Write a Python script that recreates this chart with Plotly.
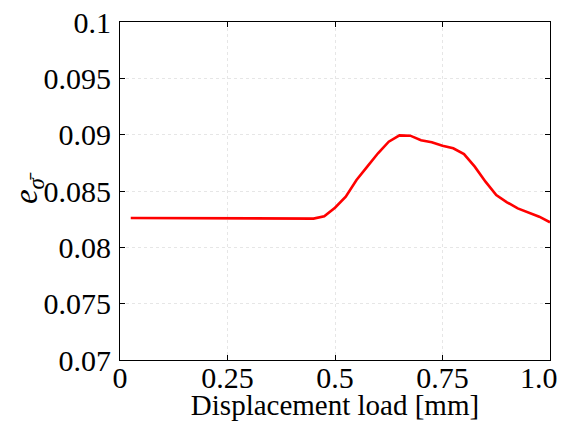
import plotly.graph_objects as go

# displacement load [mm], step 0.025
disp = [0.025 * i for i in range(1, 41)]
err = [
    0.0826, 0.0826, 0.0826, 0.0826, 0.0826, 0.0826, 0.0826, 0.0826, 0.0826, 0.0826,
    0.0826, 0.0826, 0.0826, 0.0826, 0.0826, 0.0826, 0.0826, 0.08255, 0.08275, 0.08352,
    0.08449, 0.08598, 0.08716, 0.08835, 0.08938, 0.08994, 0.08991, 0.0895, 0.08932, 0.08902,
    0.08879, 0.08828, 0.08716, 0.08583, 0.08464, 0.0840, 0.08346, 0.08307, 0.08272, 0.08222,
]

x_ticks = [0, 0.25, 0.5, 0.75, 1.0]
# the last label sits pulled in from the right edge, as in the reference
x_labels = ["0", "0.25", "0.5", "0.75", "1.0\u00a0\u00a0\u00a0"]
y_ticks = [0.07, 0.075, 0.08, 0.085, 0.09, 0.095, 0.1]
y_labels = ["0.07", "0.075", "0.08", "0.085", "0.09", "0.095", "0.1"]

fig = go.Figure()
fig.add_trace(
    go.Scatter(x=disp, y=err, mode="lines", line=dict(color="#ff0000", width=2.6), showlegend=False)
)

axis_common = dict(
    showline=True,
    linecolor="black",
    linewidth=1.2,
    mirror="ticks",
    ticks="inside",
    ticklen=5,
    tickcolor="black",
    showgrid=True,
    gridcolor="#e6e6e6",
    griddash="dot",
    gridwidth=1,
    zeroline=False,
    automargin=False,
    ticklabeloverflow="allow",
    tickfont=dict(family="Liberation Serif", size=30, color="black"),
)

fig.update_xaxes(
    range=[0, 1.0],
    tickvals=x_ticks,
    ticktext=x_labels,
    ticklabelstandoff=-9,
    title=dict(text="Displacement load [mm]", font=dict(family="Liberation Serif", size=29, color="black"), standoff=12),
    **axis_common,
)
fig.update_yaxes(
    range=[0.07, 0.1],
    tickvals=y_ticks,
    ticktext=y_labels,
    ticklabelstandoff=2,
    title=dict(text="<i>e</i><sub><i>σ̄</i></sub>", font=dict(family="Liberation Serif", size=33, color="black"), standoff=5),
    **axis_common,
)

# page body adds an 8px offset, so the figure is sized to land on the reference frame
fig.update_layout(
    width=559,
    height=413,
    margin=dict(l=112, r=17, t=14, b=61),
    plot_bgcolor="white",
    paper_bgcolor="white",
)

fig.write_html("out.html")
